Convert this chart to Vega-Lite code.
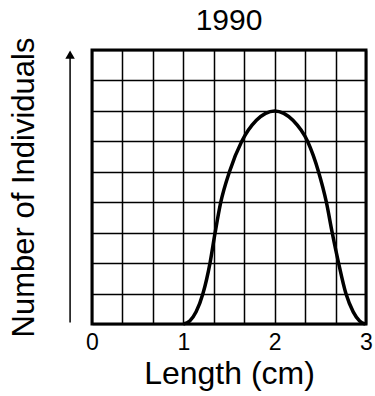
{
  "$schema": "https://vega.github.io/schema/vega-lite/v6.json",
  "width": 274,
  "height": 274,
  "autosize": {"type": "none"},
  "padding": {"left": 92, "top": 50, "right": 9, "bottom": 72},
  "background": "white",
  "config": {
    "font": "Liberation Sans",
    "view": {"stroke": "black", "strokeWidth": 3}
  },
  "title": {"text": "1990", "fontSize": 30, "fontWeight": "normal", "color": "black", "font": "Liberation Sans", "offset": 1},
  "datasets": {
    "curve": [
      {"length": 1.0, "count": 0},
      {"length": 1.07, "count": 0.1},
      {"length": 1.14, "count": 0.4},
      {"length": 1.215, "count": 1},
      {"length": 1.292, "count": 2},
      {"length": 1.348, "count": 3},
      {"length": 1.41, "count": 4},
      {"length": 1.505, "count": 5},
      {"length": 1.64, "count": 6},
      {"length": 1.8, "count": 6.69},
      {"length": 1.9, "count": 6.92},
      {"length": 2.0, "count": 7.0},
      {"length": 2.1, "count": 6.92},
      {"length": 2.2, "count": 6.69},
      {"length": 2.36, "count": 6},
      {"length": 2.48, "count": 5},
      {"length": 2.566, "count": 4},
      {"length": 2.63, "count": 3},
      {"length": 2.7, "count": 2},
      {"length": 2.78, "count": 1},
      {"length": 2.86, "count": 0.4},
      {"length": 2.93, "count": 0.1},
      {"length": 2.99, "count": 0}
    ],
    "arrow": [
      {"length": -0.24, "count": 0.05, "count2": 8.85}
    ]
  },
  "layer": [
    {
      "data": {"name": "curve"},
      "mark": {"type": "line", "color": "black", "strokeWidth": 3.5, "interpolate": "monotone"},
      "encoding": {
        "x": {
          "field": "length", "type": "quantitative",
          "scale": {"domain": [0, 3], "nice": false, "zero": false},
          "axis": {
            "title": "Length (cm)",
            "titleFontSize": 32, "titleFontWeight": "normal", "titleColor": "black", "titlePadding": 4,
            "values": [0, 0.3333, 0.6667, 1, 1.3333, 1.6667, 2, 2.3333, 2.6667, 3],
            "tickCount": 50,
            "labelExpr": "abs(datum.value - round(datum.value)) < 0.01 ? format(round(datum.value), 'd') : ''",
            "labelFontSize": 23, "labelColor": "black", "labelPadding": 7,
            "labelFlush": false, "labelOverlap": false,
            "ticks": false, "domain": false,
            "grid": true, "gridColor": "black", "gridWidth": 1.5, "gridOpacity": 1
          }
        },
        "y": {
          "field": "count", "type": "quantitative",
          "scale": {"domain": [0, 9], "nice": false},
          "axis": {
            "title": "Number of Individuals",
            "titleFontSize": 31, "titleFontWeight": "normal", "titleColor": "black", "titlePadding": 52,
            "values": [0, 1, 2, 3, 4, 5, 6, 7, 8, 9],
            "tickCount": 50,
            "labels": false, "ticks": false, "domain": false,
            "grid": true, "gridColor": "black", "gridWidth": 1.5, "gridOpacity": 1
          }
        }
      }
    },
    {
      "data": {"name": "arrow"},
      "mark": {"type": "rule", "color": "black", "strokeWidth": 1.5, "clip": false},
      "encoding": {
        "x": {"field": "length", "type": "quantitative"},
        "y": {"field": "count", "type": "quantitative"},
        "y2": {"field": "count2"}
      }
    },
    {
      "data": {"name": "arrow"},
      "mark": {"type": "point", "shape": "triangle-up", "filled": true, "color": "black", "opacity": 1, "size": 90, "clip": false},
      "encoding": {
        "x": {"field": "length", "type": "quantitative"},
        "y": {"field": "count2", "type": "quantitative"}
      }
    }
  ]
}
